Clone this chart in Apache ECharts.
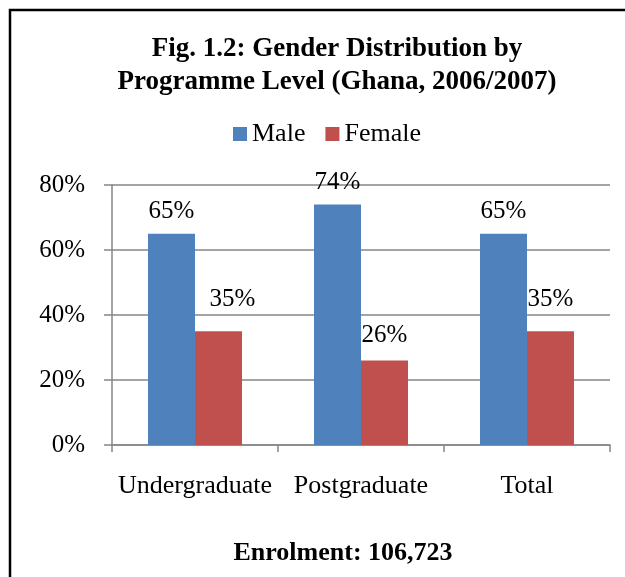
<!DOCTYPE html>
<html>
<head>
<meta charset="utf-8">
<script src="https://cdn.jsdelivr.net/npm/echarts@6/dist/echarts.min.js"></script>
<style>
  html, body { margin: 0; padding: 0; background: #fff; }
  #chart { width: 625px; height: 577px; }
</style>
</head>
<body>
<div id="chart"></div>
<script>
// data
const categories = ['Undergraduate', 'Postgraduate', 'Total'];
const male = [65, 74, 65];
const female = [35, 26, 35];
const yTicks = [0, 20, 40, 60, 80];

const font = 'Liberation Serif';
const myChart = echarts.init(document.getElementById('chart'));

const labelStyle = {
  show: true, position: 'top', distance: 10, formatter: '{c}%',
  fontFamily: font, fontSize: 25, color: '#000'
};

// female labels sit a bit higher in the original, the first one nudged right
const femaleLabelTweaks = [
  { distance: 19, offset: [14, 0] },
  { distance: 13 },
  { distance: 19 }
];
const femaleData = female.map((v, i) => ({ value: v, label: femaleLabelTweaks[i] }));

const option = {
  animation: false,
  color: ['#4F81BD', '#C0504D'],
  legend: {
    data: ['Male', 'Female'],
    top: 121,
    left: 233,
    padding: 0,
    itemWidth: 14,
    itemHeight: 14,
    itemGap: 20,
    icon: 'rect',
    textStyle: { fontFamily: font, fontSize: 26, color: '#000' }
  },
  grid: { left: 112, right: 15, top: 185, bottom: 132 },
  xAxis: {
    type: 'category',
    data: categories,
    axisLine: { lineStyle: { color: '#868686', width: 1.5 } },
    axisTick: { show: true, length: 7, lineStyle: { color: '#868686', width: 1.5 } },
    axisLabel: { fontFamily: font, fontSize: 26, color: '#000', margin: 28, interval: 0 }
  },
  yAxis: {
    type: 'value',
    min: yTicks[0],
    max: yTicks[yTicks.length - 1],
    interval: 20,
    axisLine: { show: true, lineStyle: { color: '#868686', width: 1.5 } },
    axisTick: { show: true, length: 8, lineStyle: { color: '#868686', width: 1.5 } },
    splitLine: { lineStyle: { color: '#868686', width: 1.5 } },
    axisLabel: { fontFamily: font, fontSize: 25, color: '#000', margin: 27, formatter: '{value}%' }
  },
  series: [
    { name: 'Male', type: 'bar', data: male, barWidth: 47, barGap: '0%', label: labelStyle },
    { name: 'Female', type: 'bar', data: femaleData, barWidth: 47, label: labelStyle }
  ],
  graphic: [
    {
      type: 'polyline',
      shape: { points: [[10, 577], [10, 10], [625, 10]] },
      style: { stroke: '#000', lineWidth: 2.5, fill: null }
    },
    {
      type: 'text',
      x: 337,
      y: 33,
      style: {
        text: 'Fig. 1.2: Gender Distribution by\nProgramme Level (Ghana, 2006/2007)',
        align: 'center', verticalAlign: 'top',
        fontFamily: font, fontSize: 27, fontWeight: 'bold', lineHeight: 33, fill: '#000'
      }
    },
    {
      type: 'text',
      x: 343,
      y: 553,
      style: {
        text: 'Enrolment: 106,723',
        align: 'center', verticalAlign: 'middle',
        fontFamily: font, fontSize: 26, fontWeight: 'bold', fill: '#000'
      }
    }
  ]
};
myChart.setOption(option);
</script>
</body>
</html>
